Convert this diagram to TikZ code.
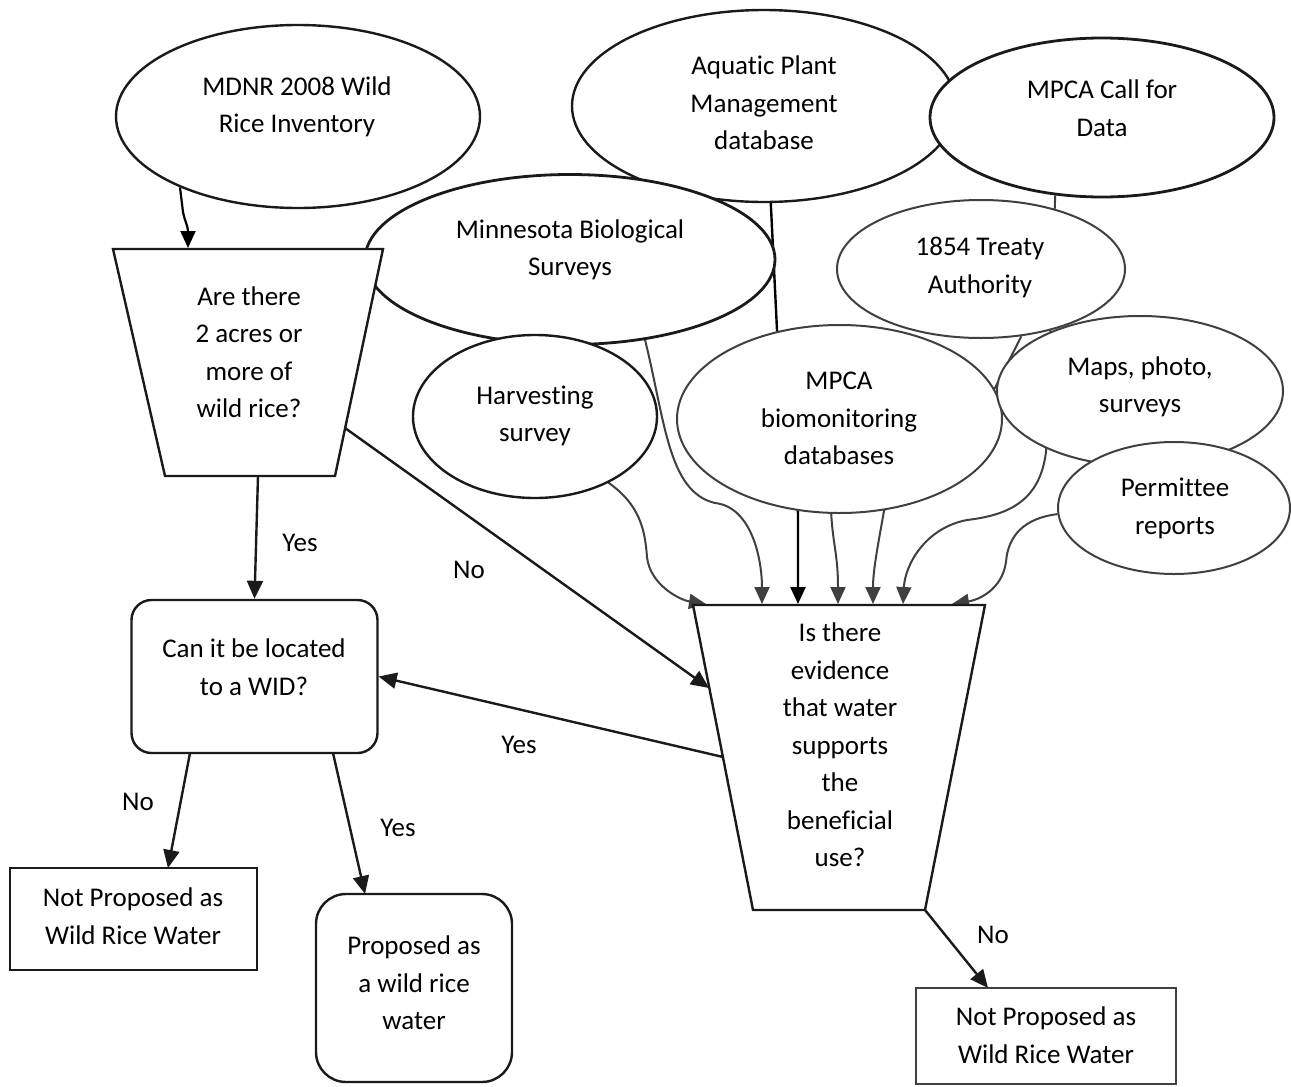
\documentclass[tikz,border=0pt]{standalone}
\usepackage{fontspec}
\setmainfont{Carlito}[Ligatures=CommonOff]
\usetikzlibrary{arrows.meta,shapes.geometric}
\pgfdeclarelayer{back}
\pgfdeclarelayer{bg}
\pgfsetlayers{back,bg,main}
\definecolor{dk}{HTML}{1A1A1A}
\definecolor{gy}{HTML}{404040}
\tikzset{
  src/.style={ellipse, draw=dk, line width=2.4pt, fill=white, inner sep=0pt},
  srcg/.style={src, draw=gy, line width=2pt},
  lbl/.style={font=\fontsize{27}{37.5}\selectfont, align=center, inner sep=0pt, text=black},
  arr/.style={line width=2.4pt, draw=dk, -{Triangle[length=18pt,width=16pt]}},
  feed/.style={line width=2pt, draw=gy, -{Triangle[length=17pt,width=15pt]}},
  feedk/.style={line width=2.4pt, draw=black, -{Triangle[length=17pt,width=15pt]}},
  flow/.style={draw=dk, line width=2.4pt, fill=white, inner sep=0pt},
}
\begin{document}
\begin{tikzpicture}[x=1pt,y=-1pt]
\begin{pgfonlayer}{back}
\fill[white] (0,0) rectangle (1291,1087);
\end{pgfonlayer}
\useasboundingbox (0,0) rectangle (1291,1087);

% source ellipses (drawing order gives overlaps)
\node[src, minimum width=384pt, minimum height=192pt] (aq) at (764,106) {};
\node[src, line width=2.8pt, minimum width=344pt, minimum height=159pt] (mc) at (1102,117.5) {};
\node[src, minimum width=364pt, minimum height=183pt] (mdnr) at (298,116.5) {};
\node[src, line width=2.8pt, minimum width=410pt, minimum height=170pt] (mn) at (570,259.5) {};
\node[srcg, minimum width=288pt, minimum height=138pt] (t54) at (981,269) {};
\node[src, minimum width=244pt, minimum height=163pt] (hv) at (535,416.5) {};
\node[srcg, minimum width=325pt, minimum height=188pt] (bio) at (839.5,419) {};
\node[srcg, minimum width=286pt, minimum height=150pt] (mp) at (1140,391) {};
\node[srcg, minimum width=232pt, minimum height=132pt] (pm) at (1174,508) {};

\node[lbl] (mdnrt) at (297,107) {MDNR 2008 Wild\\Rice Inventory};
\node[lbl] (aqt) at (764,103) {Aquatic Plant\\Management\\database};
\node[lbl] (mct) at (1102,108) {MPCA Call for\\Data};
\node[lbl] (mnt) at (570,250) {Minnesota Biological\\Surveys};
\node[lbl] (t54t) at (980,267.5) {1854 Treaty\\Authority};
\node[lbl] (hvt) at (535,416) {Harvesting\\survey};
\node[lbl] (biot) at (839,418.5) {MPCA\\biomonitoring\\databases};
\node[lbl] (mpt) at (1140,387) {Maps, photo,\\surveys};
\node[lbl] (pmt) at (1175,508.5) {Permittee\\reports};

% trapezoids
\coordinate (t1a) at (113,249); \coordinate (t1b) at (383,249);
\coordinate (t1c) at (335,476); \coordinate (t1d) at (165,476);
\draw[flow, line join=miter] (t1a) -- (t1b) -- (t1c) -- (t1d) -- cycle;
\node[lbl] (q1) at (249,352) {Are there\\2 acres or\\more of\\wild rice?};

\coordinate (t2a) at (693,605); \coordinate (t2b) at (985,605);
\coordinate (t2c) at (925,910); \coordinate (t2d) at (753,910);
\draw[flow, line join=miter] (t2a) -- (t2b) -- (t2c) -- (t2d) -- cycle;
\node[lbl] (q2) at (840,745) {Is there\\evidence\\that water\\supports\\the\\beneficial\\use?};

% boxes
\node[flow, rounded corners=20pt, minimum width=246pt, minimum height=153pt] (wid) at (254.5,676.5) {};
\node[lbl] (widt) at (254,667) {Can it be located\\to a WID?};
\node[flow, minimum width=247pt, minimum height=102pt] (npl) at (133.5,919) {};
\node[lbl] (nplt) at (133,916) {Not Proposed as\\Wild Rice Water};
\node[flow, rounded corners=30pt, minimum width=196pt, minimum height=188pt] (prop) at (414,988) {};
\node[lbl] (propt) at (414,983) {Proposed as\\a wild rice\\water};
\node[flow, draw=gy, line width=2pt, minimum width=260pt, minimum height=96pt] (npr) at (1046,1036) {};
\node[lbl] (nprt) at (1046,1035) {Not Proposed as\\Wild Rice Water};

% endpoints on trapezoid edges
\coordinate (t1in) at (188,248);
\coordinate (t1out) at (258,476);
\coordinate (t1r) at (345,428);
\coordinate (t2l1) at (709,688);
\coordinate (t2l2) at (723,757);
\coordinate (widno) at (190,753);
\coordinate (widyes) at (333,753);
\coordinate (nplin) at (168,868);
\coordinate (propin) at (365,894);
\coordinate (nprin) at (988,988);
\coordinate (in1) at (706,604);
\coordinate (in2) at (762,604);
\coordinate (in3) at (798,604);
\coordinate (in4) at (838,604);
\coordinate (in5) at (873,604);
\coordinate (in6) at (903,604);
\coordinate (in7) at (952,604);

% feeding connectors behind ellipses
\begin{pgfonlayer}{bg}
\draw[feedk, line width=2.2pt] (mdnr.211.5) -- (183,212) .. controls (185,222) and (188,226) .. (t1in);
\draw[feed] (hv.318) .. controls (640,505) and (645,530) .. (647,557) .. controls (650,585) and (680,600) .. (in1);
\draw[feed] (mn.313) .. controls (665,420) and (668,492) .. (715,503) .. controls (752,507) and (762,560) .. (in2);
\draw[feedk] (aq.274) -- (777,330) -- (798,513) -- (in3);
\draw[feed] (bio.265.4) .. controls (833,545) and (838,555) .. (in4);
\draw[feed] (t54.301) -- (995,388) -- (bio.296.3) .. controls (878,545) and (873,570) .. (in5);
\draw[feed] (mc.239) -- (1046,452) .. controls (1040,500) and (1010,515) .. (967,520) .. controls (925,528) and (905,565) .. (in6);
\draw[feed] (pm.183.5) .. controls (1025,518) and (1008,535) .. (1006,562) .. controls (1002,590) and (978,600) .. (in7);
\end{pgfonlayer}

% flow arrows
\draw[arr] (t1out) -- (wid.north);
\draw[arr] (t1r) -- (t2l1);
\draw[arr] (t2l2) -- (wid.east);
\draw[arr] (widno) -- (nplin);
\draw[arr] (widyes) -- (propin);
\draw[arr] (t2c) -- (nprin);

\node[lbl] (y1) at (300,543) {Yes};
\node[lbl] (n1) at (469,570) {No};
\node[lbl] (y2) at (519,745) {Yes};
\node[lbl] (n2) at (138,802) {No};
\node[lbl] (y3) at (398,828) {Yes};
\node[lbl] (n3) at (993,935) {No};
\end{tikzpicture}
\end{document}
